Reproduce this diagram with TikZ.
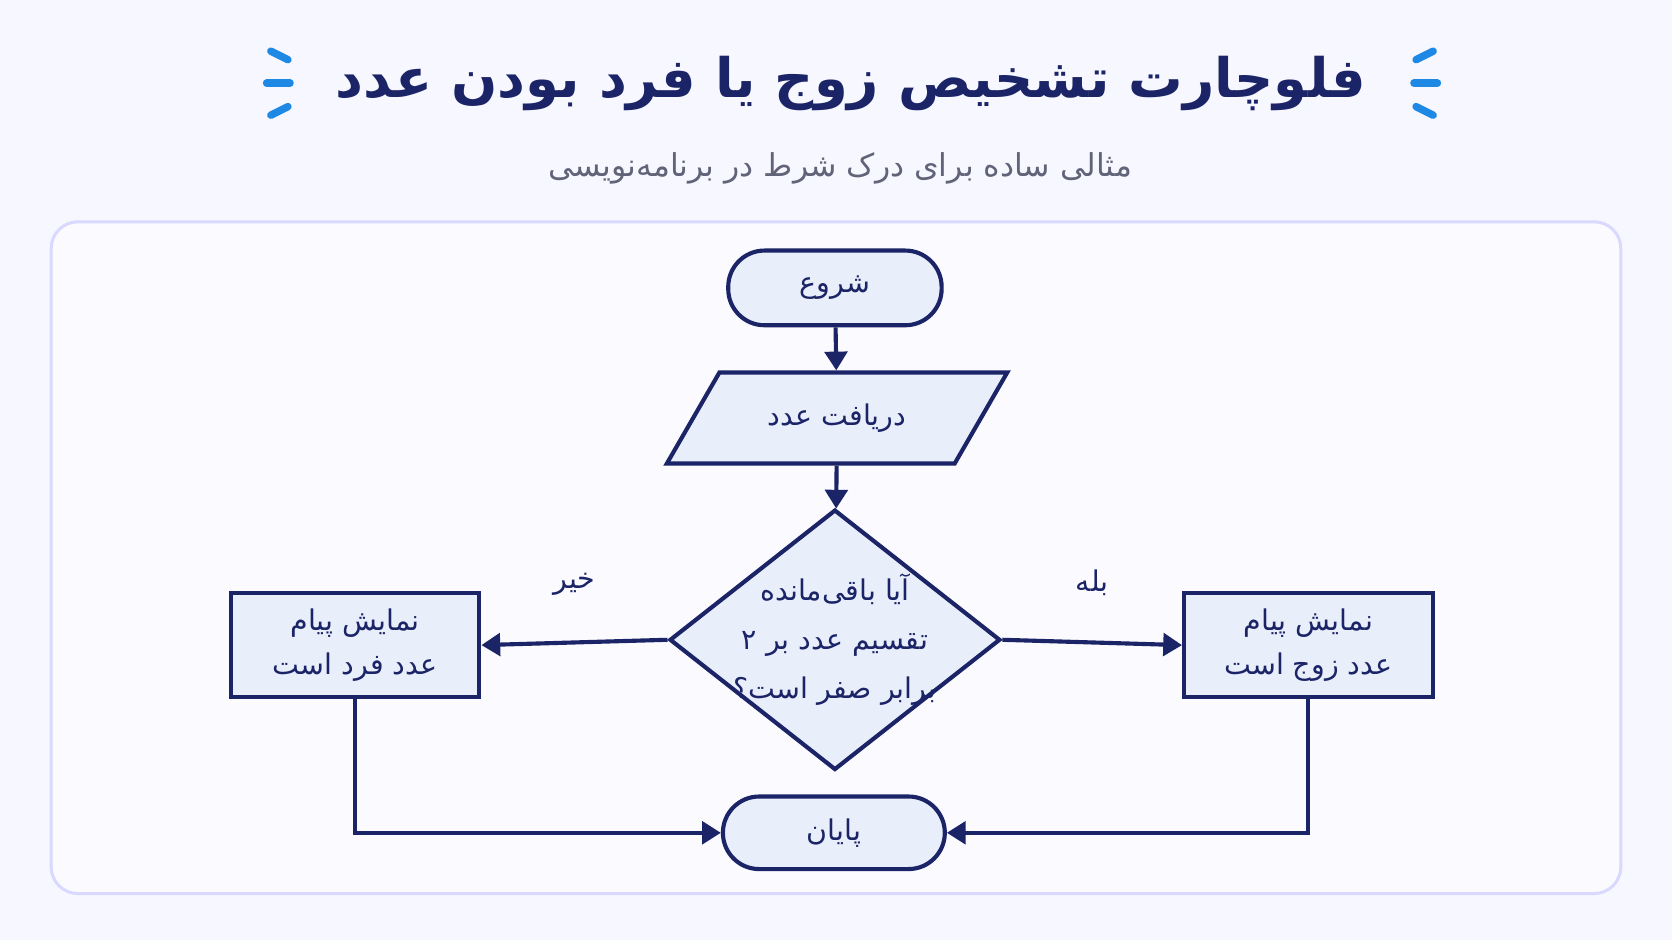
\documentclass[tikz,border=0pt]{standalone}
\usepackage{fontspec}
\setmainfont[Script=Arabic]{DejaVu Sans}
\usetikzlibrary{shapes.geometric,positioning,arrows.meta}
\TeXXeTstate=1
\newcommand{\fa}[1]{\beginR #1\endR}
\definecolor{navy}{HTML}{1B2466}
\definecolor{fillbox}{HTML}{E9EEFB}
\definecolor{accent}{HTML}{1E88E5}
\tikzset{
  box/.style={draw=navy, line width=1.1pt, fill=fillbox, text=navy, font=\fontsize{7.6}{11.5}\selectfont, align=center},
  pill/.style={box, rounded corners=0.34cm, minimum width=2.0cm, minimum height=0.7cm},
  flow/.style={draw=navy, line width=1.1pt, -{Triangle[length=5pt,width=6pt]}},
  spark/.style={accent, line width=2pt, line cap=round}
}
\begin{document}
\begin{tikzpicture}[x=0.01cm,y=-0.01cm]
\useasboundingbox (0,0) rectangle (1568,882);
\fill[white!97!blue] (0,0) rectangle (1568,882);
% title
\node[text=navy, font=\fontsize{14.5}{18}\bfseries\selectfont] (title) at (798,78) {\fa{فلوچارت تشخیص زوج یا فرد بودن عدد}};
\node[text=gray!70!navy, font=\fontsize{8.4}{11}\selectfont] (sub) at (788,158) {\fa{مثالی ساده برای درک شرط در برنامه‌نویسی}};
\foreach \x/\s in {262/1,1336/-1}{
  \draw[spark] (\x-8*\s,48) -- (\x+8*\s,56);
  \draw[spark] (\x-12*\s,78) -- (\x+10*\s,78);
  \draw[spark] (\x-8*\s,108) -- (\x+8*\s,100);
}
% panel
\draw[blue!15, fill=white!98!blue, line width=0.8pt, rounded corners=0.25cm] (48,208) rectangle (1520,838);
% nodes
\node[pill, minimum width=2.0cm] (start) at (783,270) {\fa{شروع}};
\node[box, trapezium, trapezium left angle=60, trapezium right angle=120, minimum width=3.2cm, minimum height=0.7cm, inner xsep=0pt] (input) at (785,392) {\fa{دریافت عدد}};
\node[box, diamond, minimum width=3.1cm, minimum height=2.44cm, inner sep=0pt] (cond) at (783,600) {};
\node[text=navy, font=\fontsize{7.6}{13}\selectfont, align=center] (condtxt) at (cond.center) {\fa{آیا باقی‌مانده}\\\fa{تقسیم عدد بر ۲}\\\fa{برابر صفر است؟}};
\node[box, minimum width=2.33cm, minimum height=0.98cm] (odd) at (333,605) {\fa{نمایش پیام}\\\fa{عدد فرد است}};
\node[box, minimum width=2.33cm, minimum height=0.98cm] (even) at (1227,605) {\fa{نمایش پیام}\\\fa{عدد زوج است}};
\node[pill, minimum width=2.08cm, minimum height=0.68cm] (stop) at (782,781) {\fa{پایان}};
% connectors
\draw[flow] (start) -- (input);
\draw[flow] (input) -- (cond);
\draw[flow] (cond.west) -- node[above=0.3cm, text=navy, font=\fontsize{7.6}{10}\selectfont] {\fa{خیر}} (odd.east);
\draw[flow] (cond.east) -- node[above=0.3cm, text=navy, font=\fontsize{7.6}{10}\selectfont] {\fa{بله}} (even.west);
\draw[flow] (odd.south) |- (stop.west);
\draw[flow] (even.south) |- (stop.east);
\end{tikzpicture}
\end{document}
